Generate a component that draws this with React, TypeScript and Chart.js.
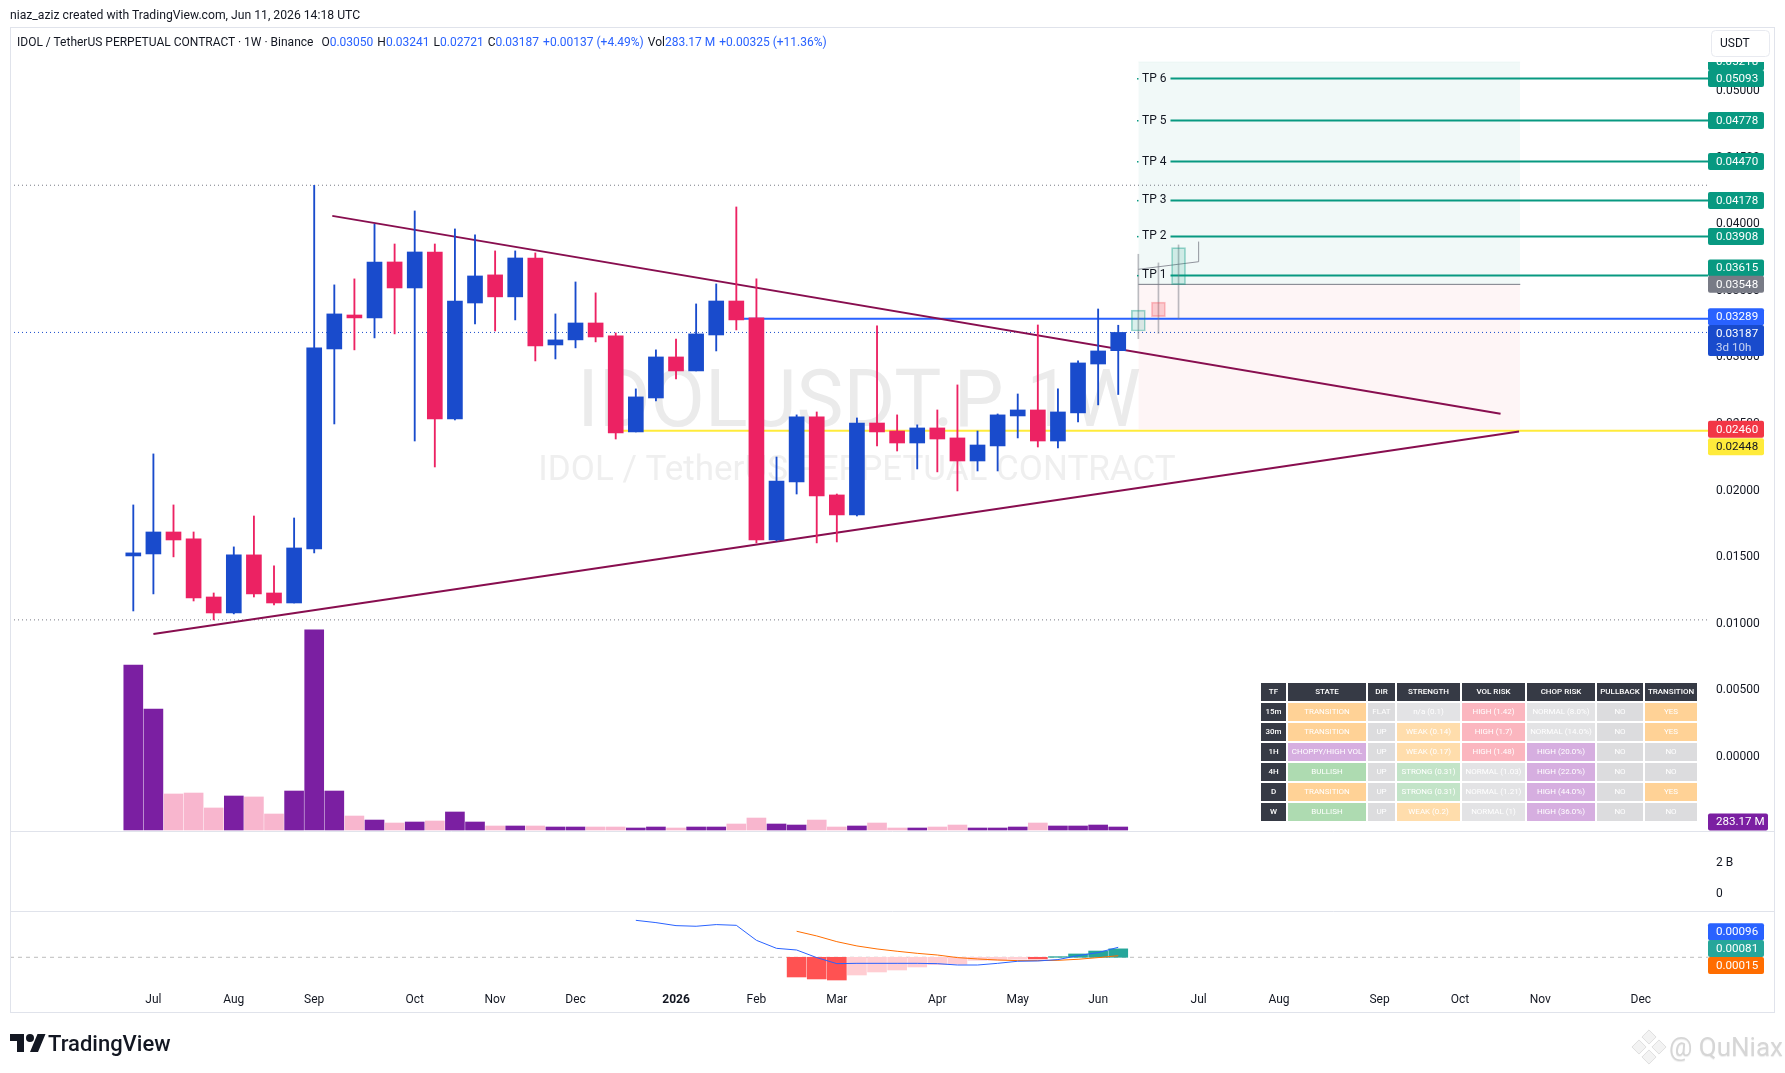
import React, { useEffect, useRef } from 'react';
import { Chart, registerables } from 'chart.js';

Chart.register(...registerables);

const FONT = 'Roboto, "Liberation Sans", sans-serif';

// weekly candles, Jun 2025 onwards
const opens = [0.01509, 0.01524, 0.01689, 0.01637, 0.01201, 0.01081, 0.01517, 0.01231, 0.01156, 0.01562, 0.03063, 0.03318, 0.03296, 0.03716, 0.03521, 0.03791, 0.02538, 0.03408, 0.03619, 0.03454, 0.03746, 0.03093, 0.03131, 0.03258, 0.03161, 0.0244, 0.02695, 0.03003, 0.02898, 0.03168, 0.03423, 0.03296, 0.01629, 0.02065, 0.02553, 0.01967, 0.01817, 0.02507, 0.02447, 0.02357, 0.0247, 0.02395, 0.02222, 0.02335, 0.0256, 0.02605, 0.02372, 0.02583, 0.0295, 0.0305];
const highs = [0.01892, 0.02275, 0.01892, 0.01689, 0.01231, 0.01577, 0.01809, 0.01434, 0.01794, 0.04292, 0.03544, 0.03589, 0.03999, 0.03851, 0.04099, 0.03851, 0.03964, 0.03919, 0.03799, 0.03799, 0.03784, 0.03326, 0.03566, 0.03484, 0.03183, 0.02763, 0.03056, 0.03138, 0.03401, 0.03551, 0.04129, 0.03589, 0.02252, 0.02568, 0.0259, 0.01974, 0.02545, 0.03236, 0.02568, 0.02493, 0.02605, 0.02793, 0.02447, 0.02575, 0.02725, 0.03243, 0.02763, 0.02973, 0.03363, 0.03241];
const lows = [0.01096, 0.01224, 0.01502, 0.01171, 0.01029, 0.01074, 0.01201, 0.01141, 0.01156, 0.01532, 0.025, 0.03056, 0.03146, 0.03176, 0.02372, 0.02177, 0.0253, 0.03251, 0.03198, 0.03281, 0.02973, 0.02988, 0.03071, 0.03116, 0.02387, 0.0244, 0.02673, 0.02838, 0.02898, 0.03048, 0.03206, 0.01607, 0.01622, 0.01974, 0.01607, 0.01614, 0.01809, 0.02335, 0.02297, 0.02162, 0.0214, 0.01997, 0.02147, 0.02147, 0.02395, 0.02327, 0.0232, 0.02515, 0.02643, 0.02721];
const closes = [0.01532, 0.01689, 0.01629, 0.01194, 0.01081, 0.01517, 0.01224, 0.01156, 0.01569, 0.03071, 0.03326, 0.03296, 0.03716, 0.03521, 0.03791, 0.02538, 0.03423, 0.03611, 0.03454, 0.03746, 0.03086, 0.03131, 0.03258, 0.03153, 0.02432, 0.02703, 0.03003, 0.02898, 0.03176, 0.03423, 0.03281, 0.01629, 0.02072, 0.02553, 0.01959, 0.01817, 0.02507, 0.0244, 0.02357, 0.0247, 0.02387, 0.02222, 0.02342, 0.02568, 0.02605, 0.02372, 0.0259, 0.02958, 0.03048, 0.03187];
// volume in millions
const volumes = [15580, 11420, 3400, 3490, 2080, 3210, 3120, 1510, 3680, 18900, 3680, 1320, 940, 660, 755, 850, 1700, 755, 378, 378, 378, 283, 283, 283, 283, 189, 283, 189, 283, 283, 566, 1130, 566, 470, 940, 283, 378, 660, 189, 189, 283, 470, 189, 189, 283, 660, 378, 378, 470, 283.17];

// MACD pane
const macdStart = 25;
const macdLine = [0.00355, 0.00333, 0.00304, 0.00298, 0.00314, 0.00307, 0.00163, 0.00086, 0.0007, -0.00003, -0.00061, -0.00058, -0.00058, -0.00058, -0.00058, -0.00061, -0.00074, -0.00074, -0.00058, -0.00038, -0.00035, -0.00022, 0.00016, 0.00045, 0.00096];
const signalStart = 33;
const signalLine = [0.0025, 0.00205, 0.0015, 0.00109, 0.0008, 0.00058, 0.00038, 0.00022, -0.00003, -0.00016, -0.00026, -0.00032, -0.00032, -0.00029, -0.00019, -0.00003, 0.00015];
const histStart = 33;
const histValues = [-0.00189, -0.00208, -0.00218, -0.0017, -0.00141, -0.00122, -0.00093, -0.0007, -0.00067, -0.00029, -0.00029, -0.00019, -0.00016, 0.00006, 0.00032, 0.0006, 0.00081];

// projected candles after the last bar
const ghostIndex = [50, 51, 52];
const ghostOpen = [0.03198, 0.03414, 0.03546];
const ghostHigh = [0.03774, 0.03709, 0.03844];
const ghostLow = [0.0314, 0.03181, 0.03291];
const ghostClose = [0.03354, 0.03306, 0.03824];
const ghostPath = [[50, 0.03661], [53, 0.03718], [53, 0.03869]];

// levels
const targets = [0.03615, 0.03908, 0.04178, 0.0447, 0.04778, 0.05093];
const boxTop = 0.05218;
const entry = 0.03548;
const stop = 0.0246;
const blueLevel = 0.03289;
const yellowLevel = 0.02448;
const lastPrice = 0.03187;
const highMark = 0.04292;
const lowMark = 0.01029;
const upperTrend = [[9.9, 0.04062], [68.02, 0.02577]];
const lowerTrend = [[1, 0.00923], [68.94, 0.02443]];

const priceTicks = [0, 0.005, 0.01, 0.015, 0.02, 0.025, 0.03, 0.035, 0.04, 0.045, 0.05];
const midTicks = [0, 2];
const monthIndex = [1, 5, 9, 14, 18, 22, 27, 31, 35, 40, 44, 48, 53, 57, 62, 66, 70, 75];
const monthLabels = ['Jul', 'Aug', 'Sep', 'Oct', 'Nov', 'Dec', '2026', 'Feb', 'Mar', 'Apr', 'May', 'Jun', 'Jul', 'Aug', 'Sep', 'Oct', 'Nov', 'Dec'];

const tableHead = ['TF', 'STATE', 'DIR', 'STRENGTH', 'VOL RISK', 'CHOP RISK', 'PULLBACK', 'TRANSITION'];
const tableRows = [
  ['15m', 'TRANSITION', 'FLAT', 'n/a (0.1)', 'HIGH (1.42)', 'NORMAL (8.0%)', 'NO', 'YES'],
  ['30m', 'TRANSITION', 'UP', 'WEAK (0.14)', 'HIGH (1.7)', 'NORMAL (14.0%)', 'NO', 'YES'],
  ['1H', 'CHOPPY/HIGH VOL', 'UP', 'WEAK (0.17)', 'HIGH (1.48)', 'HIGH (20.0%)', 'NO', 'NO'],
  ['4H', 'BULLISH', 'UP', 'STRONG (0.31)', 'NORMAL (1.03)', 'HIGH (22.0%)', 'NO', 'NO'],
  ['D', 'TRANSITION', 'UP', 'STRONG (0.31)', 'NORMAL (1.21)', 'HIGH (44.0%)', 'NO', 'YES'],
  ['W', 'BULLISH', 'UP', 'WEAK (0.2)', 'NORMAL (1)', 'HIGH (36.0%)', 'NO', 'NO'],
];
const columnWidths = [25, 78, 27, 63, 63, 68, 46, 52];

const legendParts = [
  ['IDOL / TetherUS PERPETUAL CONTRACT · 1W · Binance', '#131722', 8],
  ['O', '#131722', 0], ['0.03050', '#2962FF', 4],
  ['H', '#131722', 0], ['0.03241', '#2962FF', 4],
  ['L', '#131722', 0], ['0.02721', '#2962FF', 4],
  ['C', '#131722', 0], ['0.03187', '#2962FF', 4],
  ['+0.00137 (+4.49%)', '#2962FF', 4],
  ['Vol', '#131722', 0], ['283.17 M', '#2962FF', 4],
  ['+0.00325 (+11.36%)', '#2962FF', 0],
];

const BLUE = '#194BCC';
const PINK = '#EC2263';
const TEAL = '#089981';
const X_MIN = -6.134;
const X_MAX = 78.34;

function cellColor(text: string, col: number) {
  if (col === 0) return '#363A45';
  if (text === 'TRANSITION' || text === 'YES') return '#FFD296';
  if (text.startsWith('WEAK')) return '#FFDDAC';
  if (text.startsWith('STRONG')) return '#C3E4C8';
  if (text === 'BULLISH') return '#AEDBB1';
  if (text === 'CHOPPY/HIGH VOL') return '#D6AEE0';
  if (text.startsWith('HIGH')) return col === 4 ? '#FBB6BF' : '#D6AEE0';
  if (col === 2 || col === 6 || col === 7) return '#DCDCDE';
  return '#E3E3E5';
}

function drawTag(ctx: CanvasRenderingContext2D, cy: number, fill: string, color: string, text: string, sub?: string, clipTop?: number, w = 56) {
  const h = sub ? 31 : 17;
  const top = sub ? cy - 8.5 : cy - h / 2;
  ctx.save();
  if (clipTop !== undefined) {
    ctx.beginPath();
    ctx.rect(1700, clipTop, 80, 60);
    ctx.clip();
  }
  ctx.fillStyle = fill;
  ctx.beginPath();
  ctx.roundRect(1708, top, w, h, 2);
  ctx.fill();
  ctx.fillStyle = color;
  ctx.font = `11.6px ${FONT}`;
  ctx.textBaseline = 'middle';
  ctx.textAlign = 'left';
  ctx.fillText(text, 1716, cy + 0.5);
  if (sub) {
    ctx.fillStyle = 'rgba(255,255,255,0.75)';
    ctx.fillText(sub, 1716, cy + 15);
  }
  ctx.restore();
}

const backdropPlugin = {
  id: 'backdrop',
  // the 2 B / 0 axis takes no room of its own, its labels sit under the price axis
  afterLayout(chart: any) {
    const mid = chart.scales.yMid;
    mid.right = mid.left + 67;
  },
  beforeDatasetsDraw(chart: any) {
    const { ctx } = chart;
    ctx.save();
    ctx.fillStyle = '#EBEBEB';
    ctx.textAlign = 'center';
    ctx.textBaseline = 'middle';
    ctx.font = `79px ${FONT}`;
    ctx.fillText('IDOLUSDT.P, 1W', 859, 406);
    ctx.font = `35px ${FONT}`;
    ctx.fillStyle = '#EFEFEF';
    ctx.fillText('IDOL / TetherUS PERPETUAL CONTRACT', 857, 471);
    ctx.restore();
  },
  afterDraw(chart: any) {
    const { ctx, scales } = chart;
    const y = scales.y;
    const px = (v: number) => y.getPixelForValue(v);

    // frame and pane separators
    ctx.save();
    ctx.strokeStyle = '#E0E3EB';
    ctx.lineWidth = 1;
    ctx.strokeRect(10.5, 27.5, 1764, 985);
    ctx.beginPath();
    ctx.moveTo(10, 831.5);
    ctx.lineTo(1775, 831.5);
    ctx.moveTo(10, 911.5);
    ctx.lineTo(1775, 911.5);
    ctx.stroke();

    // TP labels
    ctx.fillStyle = '#131722';
    ctx.font = `12px ${FONT}`;
    ctx.textBaseline = 'middle';
    targets.forEach((t, i) => {
      ctx.fillStyle = TEAL;
      ctx.fillRect(1137, px(t) - 0.5, 1.5, 1.5);
      ctx.fillStyle = '#131722';
      ctx.fillText(`TP ${i + 1}`, 1142, px(t));
    });

    // USDT badge
    ctx.fillStyle = '#fff';
    ctx.strokeStyle = '#E8EAF0';
    ctx.beginPath();
    ctx.roundRect(1711.5, 30.5, 58, 26, 4);
    ctx.fill();
    ctx.stroke();
    ctx.fillStyle = '#131722';
    ctx.fillText('USDT', 1720, 44);
    ctx.restore();

    // price tags
    const f = (v: number) => v.toFixed(5);
    drawTag(ctx, px(boxTop), TEAL, '#fff', f(boxTop), undefined, px(boxTop));
    [5, 4, 3, 2, 1].forEach((i) => drawTag(ctx, px(targets[i]), TEAL, '#fff', f(targets[i])));
    drawTag(ctx, px(targets[0]) - 7.5, TEAL, '#fff', f(targets[0]));
    drawTag(ctx, px(entry), '#787B86', '#fff', f(entry));
    drawTag(ctx, px(blueLevel) - 2, '#2962FF', '#fff', f(blueLevel));
    drawTag(ctx, px(lastPrice) + 1, BLUE, '#fff', f(lastPrice), '3d 10h');
    drawTag(ctx, px(stop), '#F23645', '#fff', f(stop));
    drawTag(ctx, px(yellowLevel) + 16, '#FFEB3B', '#131722', f(yellowLevel));
    const vol = scales.yVol.getPixelForValue(volumes[volumes.length - 1]);
    drawTag(ctx, vol - 5, '#7B1FA2', '#fff', '283.17 M', undefined, undefined, 60);
    const m = scales.yMacd;
    const macdLast = macdLine[macdLine.length - 1];
    const sigLast = signalLine[signalLine.length - 1];
    const histLast = histValues[histValues.length - 1];
    drawTag(ctx, m.getPixelForValue(macdLast) - 15.5, '#2962FF', '#fff', f(macdLast));
    drawTag(ctx, m.getPixelForValue(histLast) - 0.4, '#26A69A', '#fff', f(histLast));
    drawTag(ctx, m.getPixelForValue(sigLast) + 9.8, '#FF6D00', '#fff', f(sigLast));
  },
};

const pts = (a: number[][]) => a.map(([x, y]) => ({ x, y }));
const flat = (y: number, from: number, to: number) => [{ x: from, y }, { x: to, y }];
const lineSet = (data: any[], color: string, width: number, order: number, yAxisID = 'y', dash?: number[]) => ({
  type: 'line' as const,
  data,
  yAxisID,
  borderColor: color,
  borderWidth: width,
  borderDash: dash,
  pointRadius: 0,
  tension: 0,
  order,
});

export default function App() {
  const canvasRef = useRef<HTMLCanvasElement | null>(null);

  useEffect(() => {
    if (!canvasRef.current) return;
    const idx = opens.map((_, i) => i);
    const chart = new Chart(canvasRef.current, {
      type: 'bar',
      plugins: [backdropPlugin],
      data: {
        datasets: [
          { label: 'Bodies', data: idx.map((i) => ({ x: i, y: [opens[i], closes[i]] })), backgroundColor: idx.map((i) => (closes[i] >= opens[i] ? BLUE : PINK)), barThickness: 15, grouped: false, order: 1 },
          { label: 'Wicks', data: idx.map((i) => ({ x: i, y: [lows[i], highs[i]] })), backgroundColor: idx.map((i) => (closes[i] >= opens[i] ? BLUE : PINK)), barThickness: 1.2, grouped: false, order: 2 },
          { label: 'Ghost bodies', data: ghostIndex.map((x, i) => ({ x, y: [ghostOpen[i], ghostClose[i]] })), backgroundColor: ghostIndex.map((_, i) => (ghostClose[i] >= ghostOpen[i] ? 'rgba(8,153,129,0.15)' : 'rgba(242,54,69,0.22)')), borderColor: ghostIndex.map((_, i) => (ghostClose[i] >= ghostOpen[i] ? 'rgba(8,153,129,0.4)' : 'rgba(242,54,69,0.3)')), borderWidth: 1, borderSkipped: false, barThickness: 14, grouped: false, order: 3 },
          { label: 'Ghost wicks', data: ghostIndex.map((x, i) => ({ x, y: [ghostLow[i], ghostHigh[i]] })), backgroundColor: 'rgba(120,123,134,0.5)', barThickness: 1, grouped: false, order: 4 },
          lineSet(pts(ghostPath), 'rgba(120,123,134,0.8)', 1, 4),
          lineSet(pts(upperTrend), '#880E4F', 2, 5),
          lineSet(pts(lowerTrend), '#880E4F', 2, 5),
          ...targets.map((t) => lineSet(flat(t, 51.6, X_MAX), TEAL, 2, 6)),
          lineSet(flat(blueLevel, 30, X_MAX), '#2962FF', 2, 6),
          lineSet(flat(yellowLevel, 24, X_MAX), '#FFEB3B', 2, 6),
          lineSet(flat(lastPrice, X_MIN, X_MAX), BLUE, 1, 7, 'y', [1, 3]),
          lineSet(flat(highMark, X_MIN, X_MAX), '#787B86', 1, 7, 'y', [1, 3]),
          lineSet(flat(lowMark, X_MIN, X_MAX), '#787B86', 1, 7, 'y', [1, 3]),
          lineSet(flat(entry, 50, 69), '#787B86', 1, 7),
          { ...lineSet(flat(boxTop, 50, 69), 'rgba(8,153,129,0.05)', 1, 12), fill: { value: entry }, backgroundColor: 'rgba(8,153,129,0.055)' },
          { ...lineSet(flat(entry, 50, 69), 'rgba(242,54,69,0)', 0, 12), fill: { value: stop }, backgroundColor: 'rgba(242,54,69,0.05)' },
          { label: 'Volume', data: idx.map((i) => ({ x: i, y: volumes[i] })), yAxisID: 'yVol', backgroundColor: idx.map((i) => (closes[i] >= opens[i] ? '#7B1FA2' : '#F8B6CE')), barThickness: 19, grouped: false, order: 8 },
          { label: 'Histogram', data: histValues.map((v, i) => ({ x: histStart + i, y: v })), yAxisID: 'yMacd', backgroundColor: histValues.map((v, i) => (v >= 0 ? '#26A69A' : i < 3 || i === 12 ? '#FF5252' : '#FFCDD2')), barThickness: 19, grouped: false, order: 8 },
          lineSet(macdLine.map((v, i) => ({ x: macdStart + i, y: v })), '#2962FF', 1, 6, 'yMacd'),
          lineSet(signalLine.map((v, i) => ({ x: signalStart + i, y: v })), '#FF6D00', 1, 6, 'yMacd'),
          lineSet(flat(0, X_MIN, X_MAX), '#BDBDBD', 1, 9, 'yMacd', [4, 4]),
        ] as any,
      },
      options: {
        responsive: false,
        animation: false,
        events: [],
        layout: { padding: { top: 27, left: 10, right: 10, bottom: 60 } },
        plugins: { legend: { display: false }, tooltip: { enabled: false } },
        scales: {
          x: {
            type: 'linear',
            offset: false,
            min: X_MIN,
            max: X_MAX,
            grid: { display: false, drawTicks: false },
            border: { display: false },
            afterBuildTicks: (s: any) => { s.ticks = monthIndex.map((value) => ({ value })); },
            afterFit: (s: any) => { s.height = 28; },
            ticks: {
              autoSkip: false,
              maxRotation: 0,
              padding: 8,
              color: '#131722',
              font: (c: any) => ({ family: FONT, size: 12, weight: c.tick && c.tick.value === 27 ? 'bold' : 'normal' }),
              callback: (v: any) => monthLabels[monthIndex.indexOf(Number(v))],
            },
          },
          y: {
            position: 'right',
            weight: 5,
            min: -0.01712,
            max: 0.0548,
            grid: { display: false, drawTicks: false },
            border: { display: false },
            afterBuildTicks: (s: any) => { s.ticks = priceTicks.map((value) => ({ value })); },
            afterFit: (s: any) => { s.width = 67; },
            ticks: { padding: 8, color: '#131722', font: { family: FONT, size: 12 }, callback: (v: any) => Number(v).toFixed(5) },
          },
          yMid: {
            position: 'right',
            min: -5.96,
            max: 56.65,
            grid: { display: false, drawTicks: false },
            border: { display: false },
            afterBuildTicks: (s: any) => { s.ticks = midTicks.map((value) => ({ value })); },
            afterFit: (s: any) => { s.width = 0; },
            ticks: { padding: 8, color: '#131722', font: { family: FONT, size: 12 }, callback: (v: any) => (Number(v) === 0 ? '0' : `${v} B`) },
          },
          yVol: { display: false, min: -14632, max: 75803 },
          yMacd: { display: false, min: -0.00266, max: 0.08931 },
        },
      } as any,
    });
    return () => chart.destroy();
  }, []);

  return (
    <div style={{ position: 'absolute', left: 0, top: 0, width: 1785, height: 1073, overflow: 'hidden', background: '#fff', fontFamily: FONT }}>
      <canvas ref={canvasRef} width={1785} height={1073} style={{ position: 'absolute', left: 0, top: 0 }} />

      <div style={{ position: 'absolute', left: 10, top: 7, fontSize: 12.2, lineHeight: '16px', color: '#131722', whiteSpace: 'pre' }}>
        niaz_aziz created with TradingView.com, Jun 11, 2026 14:18 UTC
      </div>

      <div style={{ position: 'absolute', left: 17, top: 34, fontSize: 12, lineHeight: '16px', whiteSpace: 'pre' }}>
        {legendParts.map(([text, color, gap], i) => (
          <span key={i} style={{ color: color as string, marginRight: gap as number }}>{text}</span>
        ))}
      </div>

      <table style={{ position: 'absolute', left: 1259, top: 681, borderCollapse: 'separate', borderSpacing: 2, tableLayout: 'fixed', fontSize: 8, color: '#fff' }}>
        <tbody>
          {[tableHead, ...tableRows].map((row, r) => (
            <tr key={r}>
              {row.map((text, c) => (
                <td key={c} style={{ width: columnWidths[c], height: 18, padding: 0, textAlign: 'center', lineHeight: '18px', whiteSpace: 'nowrap', background: r === 0 ? '#363A45' : cellColor(text, c), fontWeight: r === 0 || c === 0 ? 500 : 400 }}>
                  {text}
                </td>
              ))}
            </tr>
          ))}
        </tbody>
      </table>

      <svg width={36} height={28} viewBox="0 0 36 28" style={{ position: 'absolute', left: 10, top: 1030 }}>
        <path d="M14 22H7V11H0V4h14v18zM28 22h-8l7.5-18h8L28 22z" fill="#131722" />
        <circle cx="20" cy="8" r="4" fill="#131722" />
      </svg>
      <div style={{ position: 'absolute', left: 48, top: 1030, fontSize: 22, lineHeight: '28px', fontWeight: 500, color: '#131722' }}>TradingView</div>

      <svg width={36} height={36} viewBox="0 0 36 36" style={{ position: 'absolute', left: 1631, top: 1029 }}>
        <g fill="#E0E0E0" stroke="#CFCFCF" strokeWidth="0.6">
          <rect x="13" y="3" width="10" height="10" transform="rotate(45 18 8)" fillOpacity="0.4" />
          <rect x="13" y="23" width="10" height="10" transform="rotate(45 18 28)" fillOpacity="0.4" />
          <rect x="3" y="13" width="10" height="10" transform="rotate(45 8 18)" fillOpacity="0.4" />
          <rect x="23" y="13" width="10" height="10" transform="rotate(45 28 18)" fillOpacity="0.4" />
        </g>
      </svg>
      <div style={{ position: 'absolute', left: 1669, top: 1030, fontSize: 26, lineHeight: '34px', color: '#D6D6D6', whiteSpace: 'pre', textShadow: '0 1px 1px rgba(0,0,0,0.08)' }}>@ QuNiax</div>
    </div>
  );
}
